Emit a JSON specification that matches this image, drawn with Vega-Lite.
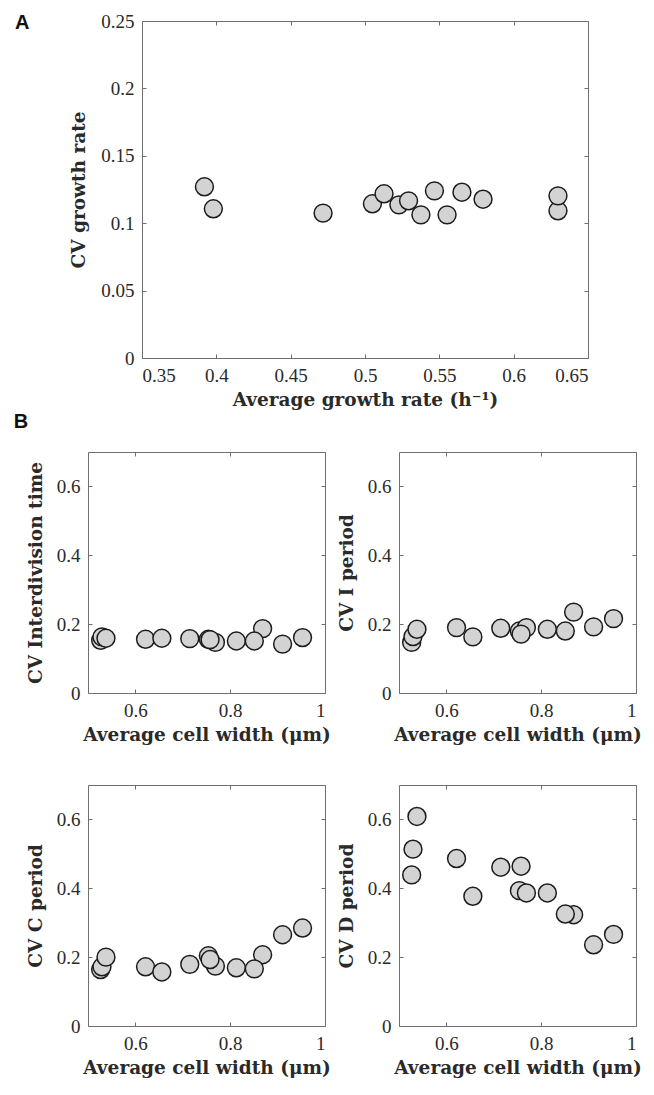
{
  "$schema": "https://vega.github.io/schema/vega-lite/v6.json",
  "description": "CV of growth rate and cell-cycle periods against average growth rate and cell width",
  "background": "white",
  "padding": {"left": 13, "top": 11, "right": 5, "bottom": 5},
  "datasets": {
    "growth": [
      {"rate": 0.392, "cv": 0.127},
      {"rate": 0.398, "cv": 0.1107},
      {"rate": 0.4718, "cv": 0.1075},
      {"rate": 0.505, "cv": 0.1144},
      {"rate": 0.5228, "cv": 0.1136},
      {"rate": 0.5128, "cv": 0.1218},
      {"rate": 0.5293, "cv": 0.1166},
      {"rate": 0.5376, "cv": 0.1062},
      {"rate": 0.5467, "cv": 0.124},
      {"rate": 0.5552, "cv": 0.1062},
      {"rate": 0.5652, "cv": 0.123},
      {"rate": 0.5794, "cv": 0.1178},
      {"rate": 0.6298, "cv": 0.1092},
      {"rate": 0.6298, "cv": 0.1203}
    ],
    "cells": [
      {"w": 0.5267, "interdiv": 0.153, "iper": 0.147, "cper": 0.164, "dper": 0.4388},
      {"w": 0.5295, "interdiv": 0.163, "iper": 0.164, "cper": 0.172, "dper": 0.5136},
      {"w": 0.5379, "interdiv": 0.159, "iper": 0.185, "cper": 0.2, "dper": 0.6087},
      {"w": 0.6214, "interdiv": 0.156, "iper": 0.19, "cper": 0.172, "dper": 0.4864},
      {"w": 0.6558, "interdiv": 0.159, "iper": 0.163, "cper": 0.157, "dper": 0.3767},
      {"w": 0.7147, "interdiv": 0.158, "iper": 0.188, "cper": 0.179, "dper": 0.4612},
      {"w": 0.754, "interdiv": 0.156, "iper": 0.18, "cper": 0.204, "dper": 0.3932},
      {"w": 0.7688, "interdiv": 0.147, "iper": 0.19, "cper": 0.174, "dper": 0.3864},
      {"w": 0.7575, "interdiv": 0.155, "iper": 0.171, "cper": 0.193, "dper": 0.4641},
      {"w": 0.813, "interdiv": 0.151, "iper": 0.185, "cper": 0.169, "dper": 0.3864},
      {"w": 0.8684, "interdiv": 0.187, "iper": 0.235, "cper": 0.207, "dper": 0.3233},
      {"w": 0.8509, "interdiv": 0.151, "iper": 0.18, "cper": 0.166, "dper": 0.3252},
      {"w": 0.9105, "interdiv": 0.142, "iper": 0.192, "cper": 0.265, "dper": 0.2359},
      {"w": 0.9526, "interdiv": 0.161, "iper": 0.216, "cper": 0.2845, "dper": 0.266}
    ]
  },
  "columns": 1,
  "spacing": 3,
  "concat": [
    {
      "columns": 2,
      "bounds": "flush",
      "spacing": 50,
      "concat": [
        {
          "width": 4,
          "height": 337,
          "title": {"text": "A", "anchor": "start", "frame": "group", "dx": -73, "dy": 12, "offset": 0, "baseline": "top", "font": "Liberation Sans", "fontWeight": "bold", "fontSize": 20, "color": "#111"},
          "data": {"values": []},
          "mark": "point",
          "view": {"stroke": null}
        },
        {
          "width": 446,
          "height": 337,
          "data": {"name": "growth"},
          "layer": [
            {
              "mark": {"type": "point", "filled": true, "fill": "#d3d3d3", "stroke": "#1c1c1c", "strokeWidth": 1.5, "size": 320, "opacity": 1},
              "encoding": {
                "x": {"field": "rate", "type": "quantitative", "scale": {"domain": [0.35, 0.65], "nice": false, "zero": false},
                      "axis": {"title": "Average growth rate (h⁻¹)", "values": [0.35, 0.4, 0.45, 0.5, 0.55, 0.6, 0.65], "format": "~g", "titlePadding": 5}},
                "y": {"field": "cv", "type": "quantitative", "scale": {"domain": [0, 0.25], "nice": false},
                      "axis": {"title": "CV growth rate", "values": [0, 0.05, 0.1, 0.15, 0.2, 0.25], "format": "~g", "titlePadding": 12}}
              }
            },
            {
              "mark": {"type": "point", "opacity": 0},
              "encoding": {
                "x": {"field": "rate", "type": "quantitative", "axis": {"orient": "top", "title": null, "labels": false, "values": [0.35, 0.4, 0.45, 0.5, 0.55, 0.6, 0.65]}},
                "y": {"field": "cv", "type": "quantitative", "axis": {"orient": "right", "title": null, "labels": false, "values": [0, 0.05, 0.1, 0.15, 0.2, 0.25]}}
              }
            }
          ],
          "resolve": {"axis": {"x": "independent", "y": "independent"}}
        }
      ]
    },
    {
      "title": {"text": "B", "anchor": "start", "frame": "bounds", "dx": -12, "offset": 19, "font": "Liberation Sans", "fontWeight": "bold", "fontSize": 20, "color": "#111"},
      "columns": 2,
      "spacing": {"row": 40, "column": 5},
      "concat": [
        {
          "width": 237, "height": 241,
          "data": {"name": "cells"},
          "layer": [
            {
              "mark": {"type": "point", "filled": true, "fill": "#d3d3d3", "stroke": "#1c1c1c", "strokeWidth": 1.5, "size": 320, "opacity": 1},
              "encoding": {
                "x": {"field": "w", "type": "quantitative", "scale": {"domain": [0.5, 1], "nice": false, "zero": false},
                      "axis": {"title": "Average cell width (μm)", "values": [0.6, 0.8, 1], "format": "~g", "titlePadding": 5}},
                "y": {"field": "interdiv", "type": "quantitative", "scale": {"domain": [0, 0.7], "nice": false},
                      "axis": {"title": "CV Interdivision time", "values": [0, 0.2, 0.4, 0.6], "format": "~g", "titlePadding": 11}}
              }
            },
            {
              "mark": {"type": "point", "opacity": 0},
              "encoding": {
                "x": {"field": "w", "type": "quantitative", "axis": {"orient": "top", "title": null, "labels": false, "values": [0.6, 0.8, 1]}},
                "y": {"field": "interdiv", "type": "quantitative", "axis": {"orient": "right", "title": null, "labels": false, "values": [0, 0.2, 0.4, 0.6]}}
              }
            }
          ],
          "resolve": {"axis": {"x": "independent", "y": "independent"}}
        },
        {
          "width": 237, "height": 241,
          "data": {"name": "cells"},
          "layer": [
            {
              "mark": {"type": "point", "filled": true, "fill": "#d3d3d3", "stroke": "#1c1c1c", "strokeWidth": 1.5, "size": 320, "opacity": 1},
              "encoding": {
                "x": {"field": "w", "type": "quantitative", "scale": {"domain": [0.5, 1], "nice": false, "zero": false},
                      "axis": {"title": "Average cell width (μm)", "values": [0.6, 0.8, 1], "format": "~g", "titlePadding": 5}},
                "y": {"field": "iper", "type": "quantitative", "scale": {"domain": [0, 0.7], "nice": false},
                      "axis": {"title": "CV I period", "values": [0, 0.2, 0.4, 0.6], "format": "~g", "titlePadding": 11}}
              }
            },
            {
              "mark": {"type": "point", "opacity": 0},
              "encoding": {
                "x": {"field": "w", "type": "quantitative", "axis": {"orient": "top", "title": null, "labels": false, "values": [0.6, 0.8, 1]}},
                "y": {"field": "iper", "type": "quantitative", "axis": {"orient": "right", "title": null, "labels": false, "values": [0, 0.2, 0.4, 0.6]}}
              }
            }
          ],
          "resolve": {"axis": {"x": "independent", "y": "independent"}}
        },
        {
          "width": 237, "height": 241,
          "data": {"name": "cells"},
          "layer": [
            {
              "mark": {"type": "point", "filled": true, "fill": "#d3d3d3", "stroke": "#1c1c1c", "strokeWidth": 1.5, "size": 320, "opacity": 1},
              "encoding": {
                "x": {"field": "w", "type": "quantitative", "scale": {"domain": [0.5, 1], "nice": false, "zero": false},
                      "axis": {"title": "Average cell width (μm)", "values": [0.6, 0.8, 1], "format": "~g", "titlePadding": 5}},
                "y": {"field": "cper", "type": "quantitative", "scale": {"domain": [0, 0.7], "nice": false},
                      "axis": {"title": "CV C period", "values": [0, 0.2, 0.4, 0.6], "format": "~g", "titlePadding": 11}}
              }
            },
            {
              "mark": {"type": "point", "opacity": 0},
              "encoding": {
                "x": {"field": "w", "type": "quantitative", "axis": {"orient": "top", "title": null, "labels": false, "values": [0.6, 0.8, 1]}},
                "y": {"field": "cper", "type": "quantitative", "axis": {"orient": "right", "title": null, "labels": false, "values": [0, 0.2, 0.4, 0.6]}}
              }
            }
          ],
          "resolve": {"axis": {"x": "independent", "y": "independent"}}
        },
        {
          "width": 237, "height": 241,
          "data": {"name": "cells"},
          "layer": [
            {
              "mark": {"type": "point", "filled": true, "fill": "#d3d3d3", "stroke": "#1c1c1c", "strokeWidth": 1.5, "size": 320, "opacity": 1},
              "encoding": {
                "x": {"field": "w", "type": "quantitative", "scale": {"domain": [0.5, 1], "nice": false, "zero": false},
                      "axis": {"title": "Average cell width (μm)", "values": [0.6, 0.8, 1], "format": "~g", "titlePadding": 5}},
                "y": {"field": "dper", "type": "quantitative", "scale": {"domain": [0, 0.7], "nice": false},
                      "axis": {"title": "CV D period", "values": [0, 0.2, 0.4, 0.6], "format": "~g", "titlePadding": 11}}
              }
            },
            {
              "mark": {"type": "point", "opacity": 0},
              "encoding": {
                "x": {"field": "w", "type": "quantitative", "axis": {"orient": "top", "title": null, "labels": false, "values": [0.6, 0.8, 1]}},
                "y": {"field": "dper", "type": "quantitative", "axis": {"orient": "right", "title": null, "labels": false, "values": [0, 0.2, 0.4, 0.6]}}
              }
            }
          ],
          "resolve": {"axis": {"x": "independent", "y": "independent"}}
        }
      ]
    }
  ],
  "config": {
    "view": {"stroke": "#6f6f6f", "strokeWidth": 1},
    "axis": {
      "domain": false,
      "grid": false,
      "tickColor": "#6f6f6f",
      "tickSize": -4,
      "labelPadding": 12,
      "labelFont": "Liberation Serif",
      "labelFontSize": 19,
      "labelColor": "#2a2a2a",
      "titleFont": "DejaVu Serif",
      "titleFontWeight": "bold",
      "titleFontSize": 18.5,
      "titleColor": "#2a2a2a"
    }
  }
}
